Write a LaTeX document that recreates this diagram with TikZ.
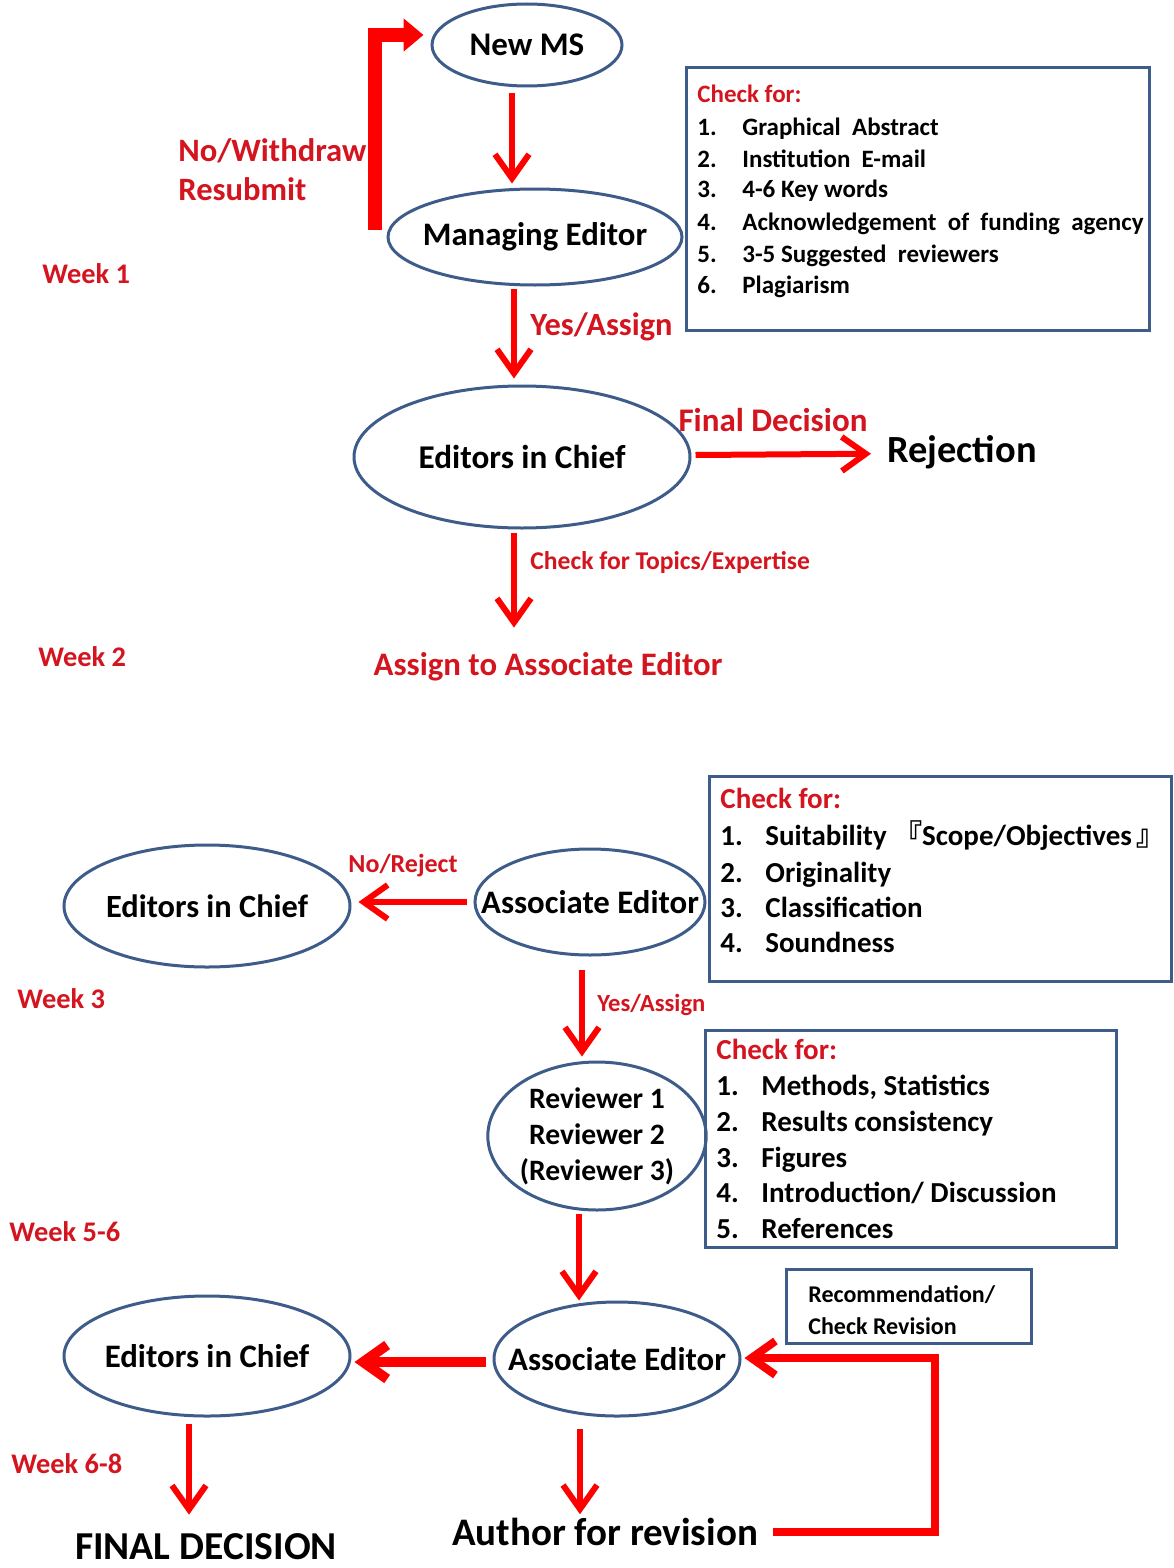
\documentclass[tikz,border=0pt]{standalone}
\usepackage{fontspec}
\setmainfont{Carlito}
\newfontfamily\cjk{Noto Sans CJK SC}
\usetikzlibrary{shapes.geometric,arrows.meta,calc}
\definecolor{arrred}{RGB}{255,0,0}
\definecolor{txtred}{RGB}{212,20,30}
\definecolor{lineblue}{RGB}{62,92,138}
\newcommand{\fsz}[2]{\fontsize{#1}{#2}\selectfont}
\newcommand{\zb}[1]{\makebox[0pt][c]{#1}}
\begin{document}
\begin{tikzpicture}[x=0.5pt,y=-0.5pt,
  ell/.style={ellipse, draw=lineblue, line width=1.5pt, inner sep=0pt, align=center},
  arr/.style={draw=arrred, line width=3pt, -{Straight Barb[length=12pt,width=17pt]}},
  redlab/.style={text=txtred, inner sep=0pt},
  blklab/.style={text=black, inner sep=0pt},
  chkbox/.style={draw=lineblue, line width=1.5pt, rectangle, inner sep=0pt, anchor=north west},
  item/.style={inner sep=0pt, anchor=base west}
]
\useasboundingbox (0,0) rectangle (1173,1568);
\fill[white] (0,0) rectangle (1173,1568);

% ---------- top part ----------
\node[ell, minimum width=95pt, minimum height=41pt, font=\bfseries\fsz{16.5}{19}] (NM) at (527,45) {\zb{New MS}};
\node[ell, minimum width=147pt, minimum height=48pt, font=\bfseries\fsz{16.4}{19}] (ME) at (535,237) {\zb{Managing Editor}};
\node[ell, minimum width=168pt, minimum height=71pt, font=\bfseries\fsz{16.6}{19}] (EC1) at (522,457) {\zb{Editors in Chief}};

\draw[arrred, line width=7pt, line join=miter, -{Triangle[length=10pt,width=16pt]}]
  ([shift={(-12,-7)}]ME.west) |- ([shift={(-7,-10)}]NM.west);
\node[redlab, anchor=base west, font=\bfseries\fsz{16.3}{19}] (nw1) at (178,162) {No/Withdraw};
\node[redlab, anchor=base west, font=\bfseries\fsz{16.3}{19}] (nw2) at (178,200) {Resubmit};

\draw[arr] ([shift={(-15,6)}]NM.south) -- ([shift={(-23,-4)}]ME.north);

% check box 1
\node[chkbox, minimum width=231.5pt, minimum height=131.5pt] (cb1) at (685,66) {};
\node[item, text=txtred, font=\bfseries\fsz{12.5}{15}] (c1h) at (697,103) {Check for:};
\foreach \n/\t/\y in {1/{Graphical\ \ Abstract}/135, 2/{Institution\ \ E-mail}/167, 3/{4-6 Key words}/198,
  4/{Acknowledgement\ \ of\ \ funding\ \ agency}/230, 5/{3-5 Suggested\ \ reviewers}/262, 6/{Plagiarism}/293}{
  \node[item, font=\bfseries\fsz{12.5}{15}] (c1n\n) at (697,\y) {\n.};
  \node[item, font=\bfseries\fsz{12.5}{15}] (c1t\n) at (742,\y) {\t};
}

\node[redlab, anchor=base west, font=\bfseries\fsz{14.2}{17}] (w1) at (42,283) {Week 1};

\draw[arr] ([shift={(-21,2)}]ME.south) -- ([shift={(-8,-6)}]EC1.north);
\node[redlab, anchor=base west, font=\bfseries\fsz{16.2}{19}] (ya1) at (530,335) {Yes/Assign};

\node[blklab, anchor=base west, font=\bfseries\fsz{19.2}{22}] (REJ) at (887,462) {Rejection};
\draw[arr] ([shift={(4,-2)}]EC1.east) -- ([shift={(-16,2)}]REJ.west);
\node[redlab, anchor=base, font=\bfseries\fsz{16.5}{19}] (fd1) at (773,431) {Final Decision};

\node[redlab, anchor=base, font=\bfseries\fsz{16.4}{19}] (ASG) at (548,675) {Assign to Associate Editor};
\draw[arr] ([shift={(-8,3)}]EC1.south) -- ([shift={(-34,-24)}]ASG.north);
\node[redlab, anchor=base west, font=\bfseries\fsz{12.8}{15}] (ctp) at (530,569) {Check for Topics/Expertise};

\node[redlab, anchor=base west, font=\bfseries\fsz{14.2}{17}] (w2) at (38,666) {Week 2};

% ---------- bottom part ----------
\node[chkbox, minimum width=231pt, minimum height=102.5pt] (cb2) at (708,775) {};
\node[item, text=txtred, font=\bfseries\fsz{14.5}{17}] (c2h) at (720,808) {Check for:};
\node[item, font=\bfseries\fsz{14.5}{17}] (c2n1) at (720,845) {1.};
\node[item, font=\bfseries\fsz{14.5}{17}] (c2t1) at (765,845) {Suitability\ {\cjk 『}Scope/Objectives\,{\cjk 』}};
\foreach \n/\t/\y in {2/Originality/882, 3/Classification/917, 4/Soundness/952}{
  \node[item, font=\bfseries\fsz{14.5}{17}] (c2n\n) at (720,\y) {\n.};
  \node[item, font=\bfseries\fsz{14.5}{17}] (c2t\n) at (765,\y) {\t};
}

\node[ell, minimum width=115pt, minimum height=53pt, font=\bfseries\fsz{16.4}{19}] (AE1) at (590,902) {\zb{Associate Editor}};
\node[ell, minimum width=143pt, minimum height=61pt, font=\bfseries\fsz{16.2}{19}] (EC2) at (207,906) {\zb{Editors in Chief}};
\draw[arr] ([shift={(-7,0)}]AE1.west) -- ([shift={(7,-4)}]EC2.east);
\node[redlab, anchor=base, font=\bfseries\fsz{13}{15}] (nr) at (403,872) {No/Reject};

\node[redlab, anchor=base west, font=\bfseries\fsz{14.2}{17}] (w3) at (17,1008) {Week 3};

\node[ell, minimum width=107pt, minimum height=74pt, font=\bfseries\fsz{14.8}{18}] (REV) at (597,1136) {Reviewer 1\\Reviewer 2\\(Reviewer 3)};
\draw[arr] ([shift={(-8,13)}]AE1.south) -- ([shift={(-15,-4)}]REV.north);
\node[redlab, anchor=base west, font=\bfseries\fsz{12.3}{15}] (ya2) at (597,1011) {Yes/Assign};

\node[chkbox, minimum width=205.5pt, minimum height=108.5pt] (cb3) at (704,1029) {};
\node[item, text=txtred, font=\bfseries\fsz{14.5}{17}] (c3h) at (716,1059) {Check for:};
\foreach \n/\t/\y in {1/{Methods, Statistics}/1095, 2/{Results consistency}/1131, 3/Figures/1167,
  4/{Introduction/ Discussion}/1202, 5/References/1238}{
  \node[item, font=\bfseries\fsz{14.5}{17}] (c3n\n) at (716,\y) {\n.};
  \node[item, font=\bfseries\fsz{14.5}{17}] (c3t\n) at (761,\y) {\t};
}

\node[redlab, anchor=base west, font=\bfseries\fsz{14.2}{17}] (w56) at (9,1241) {Week 5-6};

\node[ell, minimum width=123pt, minimum height=57pt, font=\bfseries\fsz{16.4}{19}] (AE2) at (617,1359) {\zb{Associate Editor}};
\node[ell, minimum width=143pt, minimum height=60pt, font=\bfseries\fsz{16.4}{19}] (EC3) at (207,1356) {\zb{Editors in Chief}};
\draw[arr] ([shift={(-18,2)}]REV.south) -- ([shift={(-38,0)}]AE2.north);

\node[chkbox, minimum width=122.5pt, minimum height=37pt] (rbox) at (785,1268) {};
\node[item, font=\bfseries\fsz{12}{15}] (rb1) at (808,1302) {Recommendation/};
\node[item, font=\bfseries\fsz{12}{15}] (rb2) at (808,1334) {Check Revision};

\draw[arr, line width=5pt] ([shift={(-7,3)}]AE2.west) -- ([shift={(3,6)}]EC3.east);

\node[blklab, anchor=base, font=\bfseries\fsz{19.8}{23}] (FD) at (206,1559) {FINAL DECISION};
\draw[arr] ([shift={(-18,6)}]EC3.south) -- ([shift={(-17,-18)}]FD.north);
\node[redlab, anchor=base west, font=\bfseries\fsz{14.2}{17}] (w68) at (11,1473) {Week 6-8};

\node[blklab, anchor=base, font=\bfseries\fsz{19.5}{23}] (AU) at (605,1545) {Author for revision};
\draw[arr] ([shift={(-37,11)}]AE2.south) -- ([shift={(-25,-3)}]AU.north);

\coordinate (lc) at (935,1358);
\draw[arr, line width=4pt, line join=miter] ([shift={(15,1)}]AU.east) -| (lc) -- ([shift={(3,-1)}]AE2.east);
\end{tikzpicture}
\end{document}
